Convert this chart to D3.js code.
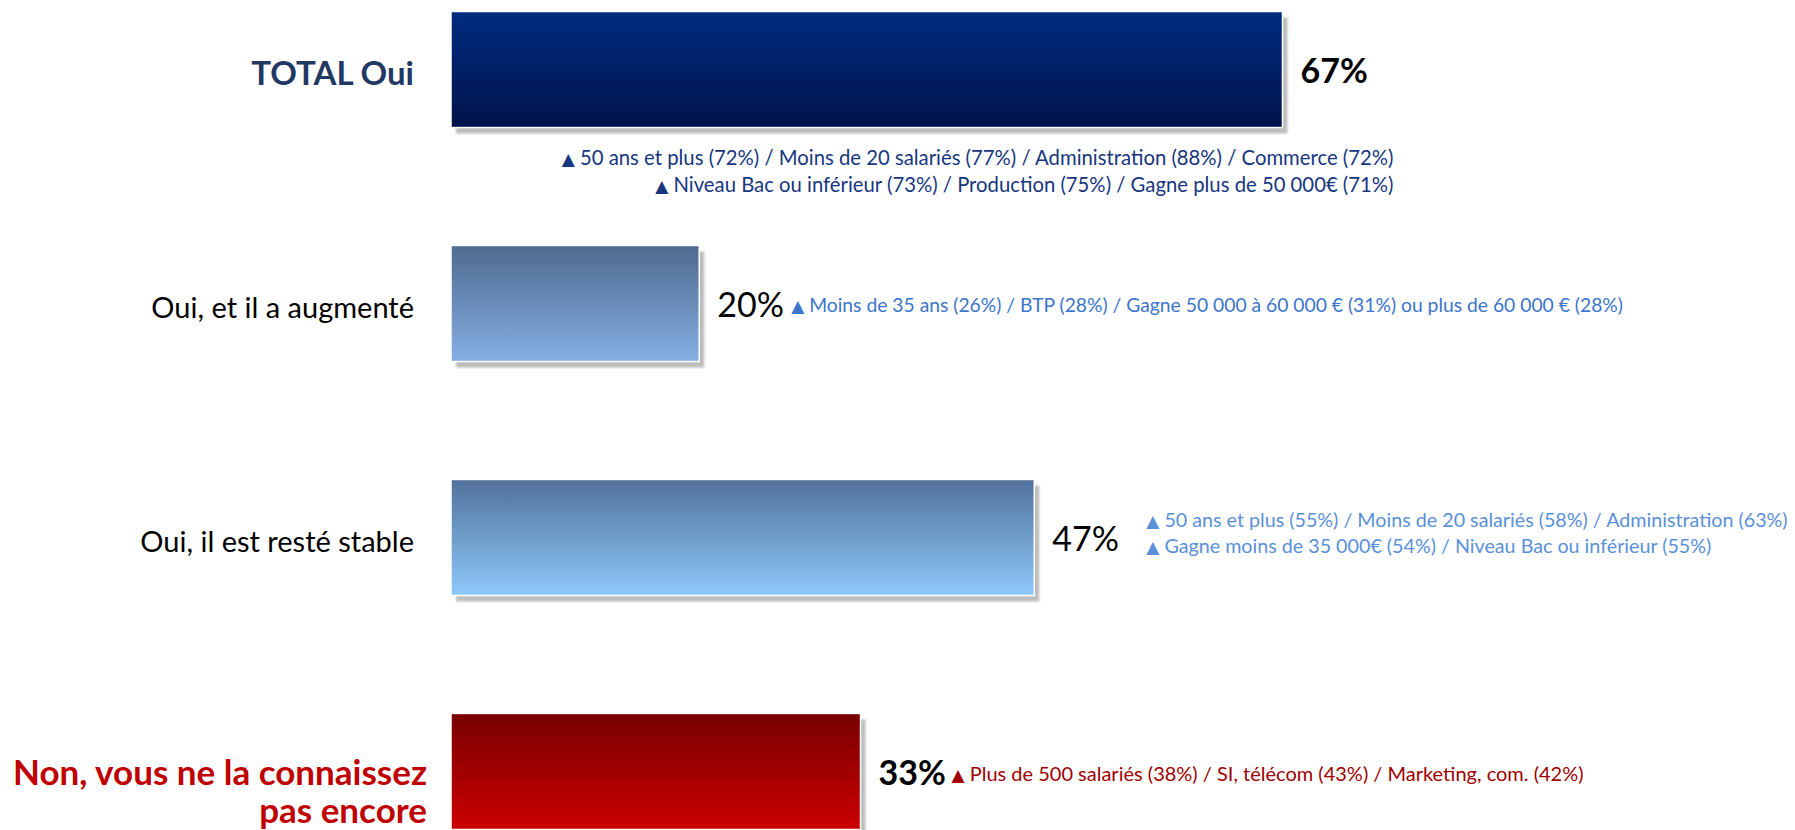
<!DOCTYPE html>
<html>
<head>
<meta charset="utf-8">
<script src="https://cdn.jsdelivr.net/npm/d3@7"></script>
<style>
  body { margin: 0; background: #fff; }
  svg { display: block; font-family: Lato, "Open Sans", sans-serif; }
</style>
</head>
<body>
<div id="chart"></div>
<script>
// data
const categories = [
    "TOTAL Oui",
    "Oui, et il a augmenté",
    "Oui, il est resté stable",
    "Non, vous ne la connaissez\npas encore"
];
const values = [67, 20, 47, 33];
const notes = [
    ["50 ans et plus (72%) / Moins de 20 salariés (77%) / Administration (88%) / Commerce (72%)",
     "Niveau Bac ou inférieur (73%) / Production (75%) / Gagne plus de 50 000€ (71%)"],
    ["Moins de 35 ans (26%) / BTP (28%)  / Gagne 50 000 à 60 000 € (31%) ou plus de 60 000 € (28%)"],
    ["50 ans et plus (55%) / Moins de 20 salariés (58%) / Administration (63%)",
     "Gagne moins de 35 000€ (54%) / Niveau Bac ou inférieur (55%)"],
    ["Plus de 500 salariés (38%) / SI, télécom (43%) / Marketing, com. (42%)"]
];

// look of each row
const rowStyle = [
    {grad: ['#002C80', '#00134A'], labelColor: '#1F3864', labelWeight: 700, labelSize: 33, labelDx: -37,
     valueWeight: 700, noteColor: '#17367F', noteSize: 20.3, noteAnchor: 'end', noteDx: 111, noteDy: [88, 115]},
    {grad: ['#4E6A8E', '#86AFE5'], labelColor: '#000', labelWeight: 400, labelSize: 29, labelDx: -37,
     valueWeight: 400, noteColor: '#3B75CC', noteSize: 19.3, noteAnchor: 'start', noteDx: 92, noteDy: [2]},
    {grad: ['#51719A', '#8EC9FB'], labelColor: '#000', labelWeight: 400, labelSize: 29, labelDx: -37,
     valueWeight: 400, noteColor: '#5A90DA', noteSize: 19.7, noteAnchor: 'start', noteDx: 112, noteDy: [-17, 9]},
    {grad: ['#780000', '#CC0000'], labelColor: '#C00000', labelWeight: 700, labelSize: 35, labelDx: -24,
     valueWeight: 700, noteColor: '#A00000', noteSize: 20, noteAnchor: 'start', noteDx: 91, noteDy: [3]}
];

const width = 1795, height = 830;
const svg = d3.select('#chart')
    .append('svg')
    .attr('width', width)
    .attr('height', height);

const defs = svg.append('defs');
rowStyle.forEach((s, i) => {
    const g = defs.append('linearGradient')
        .attr('id', 'grad' + i)
        .attr('x1', 0).attr('y1', 0).attr('x2', 0).attr('y2', 1);
    g.append('stop').attr('offset', '0%').attr('stop-color', s.grad[0]);
    g.append('stop').attr('offset', '100%').attr('stop-color', s.grad[1]);
});
defs.append('filter')
    .attr('id', 'soft')
    .attr('x', '-5%').attr('y', '-5%').attr('width', '110%').attr('height', '110%')
    .append('feGaussianBlur').attr('stdDeviation', 1.3);

// scales
const x = d3.scaleLinear()
    .domain([0, 100])
    .range([451, 451 + 1241]);
const y = d3.scaleBand()
    .domain(categories)
    .range([11.5, 829.5])
    .paddingInner(0.504)
    .paddingOuter(0);
const bw = y.bandwidth();

const rows = svg.selectAll('g.row')
    .data(categories)
    .enter()
    .append('g')
    .attr('class', 'row');

// shadow
rows.append('rect')
    .attr('x', d => x(0) + 5)
    .attr('y', d => y(d) + 6)
    .attr('width', (d, i) => x(values[i]) - x(0))
    .attr('height', bw)
    .attr('fill', '#BDBDBD')
    .attr('filter', 'url(#soft)');

// bars
rows.append('rect')
    .attr('x', x(0))
    .attr('y', d => y(d))
    .attr('width', (d, i) => x(values[i]) - x(0))
    .attr('height', bw)
    .attr('fill', (d, i) => `url(#grad${i})`)
    .attr('stroke', '#fff')
    .attr('stroke-width', 1.5);

// category labels
rows.each(function (d, i) {
    const s = rowStyle[i];
    const lines = d.split('\n');
    const cy = y(d) + bw / 2;
    const t = d3.select(this).append('text')
        .attr('text-anchor', 'end')
        .attr('fill', s.labelColor)
        .attr('font-weight', s.labelWeight)
        .style('font-size', s.labelSize + 'px');
    lines.forEach((line, k) => {
        t.append('tspan')
            .attr('x', x(0) + s.labelDx)
            .attr('y', cy + (lines.length > 1 ? 1 + k * 38 : 4))
            .attr('dy', '0.35em')
            .text(line);
    });
});

// value labels
rows.append('text')
    .attr('x', (d, i) => x(values[i]) + 18)
    .attr('y', d => y(d) + bw / 2 + 2)
    .attr('dy', '0.35em')
    .attr('fill', '#000')
    .attr('font-weight', (d, i) => rowStyle[i].valueWeight)
    .style('font-size', '34px')
    .text((d, i) => values[i] + '%');

// notes with the up triangle
rows.each(function (d, i) {
    const s = rowStyle[i];
    const cy = y(d) + bw / 2;
    notes[i].forEach((line, k) => {
        const t = d3.select(this).append('text')
            .attr('x', x(values[i]) + s.noteDx)
            .attr('y', cy + s.noteDy[k])
            .attr('dy', '0.35em')
            .attr('text-anchor', s.noteAnchor)
            .attr('fill', s.noteColor)
            .style('font-size', s.noteSize + 'px');
        t.append('tspan')
            .style('font-family', '"DejaVu Sans", sans-serif')
            .style('font-size', '17px')
            .text('▲');
        t.append('tspan').text(' ' + line);
    });
});
</script>
</body>
</html>
